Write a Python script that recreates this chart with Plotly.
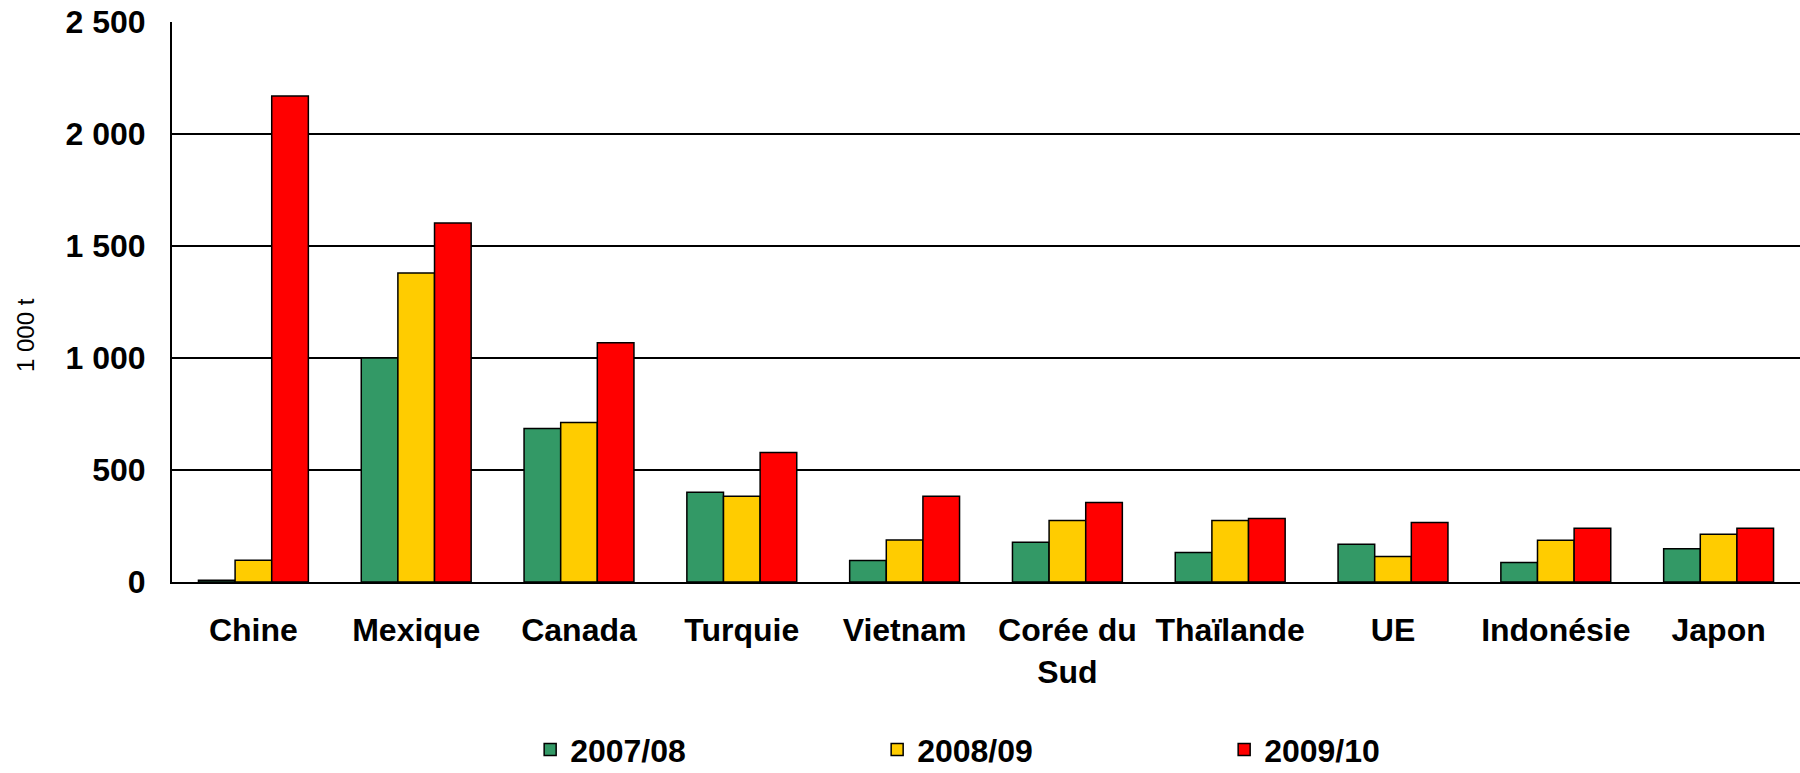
import plotly.graph_objects as go

categories = ["Chine", "Mexique", "Canada", "Turquie", "Vietnam", "Corée du<br>Sud",
              "Thaïlande", "UE", "Indonésie", "Japon"]
series_names = ["2007/08", "2008/09", "2009/10"]
v_2007_08 = [8, 1000, 685, 401, 96, 177, 132, 169, 87, 148]
v_2008_09 = [97, 1380, 712, 383, 187, 275, 275, 114, 186, 213]
v_2009_10 = [2170, 1603, 1068, 578, 383, 355, 284, 266, 240, 240]
y_ticks = [0, 500, 1000, 1500, 2000, 2500]
y_ticktext = ["0", "500", "1 000", "1 500", "2 000", "2 500"]
y_title = "1 000 t"

colors = ["#339966", "#FFCC00", "#FF0000"]

fig = go.Figure()
for name, vals, col in zip(series_names, [v_2007_08, v_2008_09, v_2009_10], colors):
    fig.add_trace(go.Bar(
        x=categories, y=vals, name=name,
        marker=dict(color=col, line=dict(color="black", width=1.5)),
    ))

font_family = "Liberation Sans, Arial, sans-serif"

fig.update_layout(
    width=1800, height=773,
    barmode="group", bargap=0.325, bargroupgap=0,
    plot_bgcolor="white", paper_bgcolor="white",
    margin=dict(l=172, r=0, t=22, b=191, autoexpand=False),
    font=dict(family=font_family, color="black"),
    showlegend=True,
    legend=dict(
        orientation="h", x=0.220, xanchor="left",
        yref="container", y=0.030, yanchor="middle",
        entrywidth=302, entrywidthmode="pixels",
        font=dict(family=font_family, size=32, color="black", weight="bold"),
        itemwidth=30, traceorder="normal",
    ),
    annotations=[dict(
        text=y_title, textangle=-90, showarrow=False,
        xref="paper", yref="paper", x=-0.0903, y=0.441,
        xanchor="center", yanchor="middle",
        font=dict(family=font_family, size=24, color="black"),
    )],
)

fig.update_yaxes(
    range=[0, 2500], tickvals=y_ticks, ticktext=y_ticktext,
    showgrid=True, gridcolor="black", gridwidth=1.5,
    showline=True, linecolor="black", linewidth=2,
    ticks="inside", ticklen=10, tickcolor="black",
    tickfont=dict(family=font_family, size=32, color="black", weight="bold"),
    ticklabelstandoff=18,
    zeroline=False,
)
fig.update_xaxes(
    showline=True, linecolor="black", linewidth=2,
    tickfont=dict(family=font_family, size=32, color="black", weight="bold"),
    ticks="", ticklabelstandoff=19,
)

fig.write_html("out.html", config={"displayModeBar": False},
               post_script="document.body.style.margin='0px';")
